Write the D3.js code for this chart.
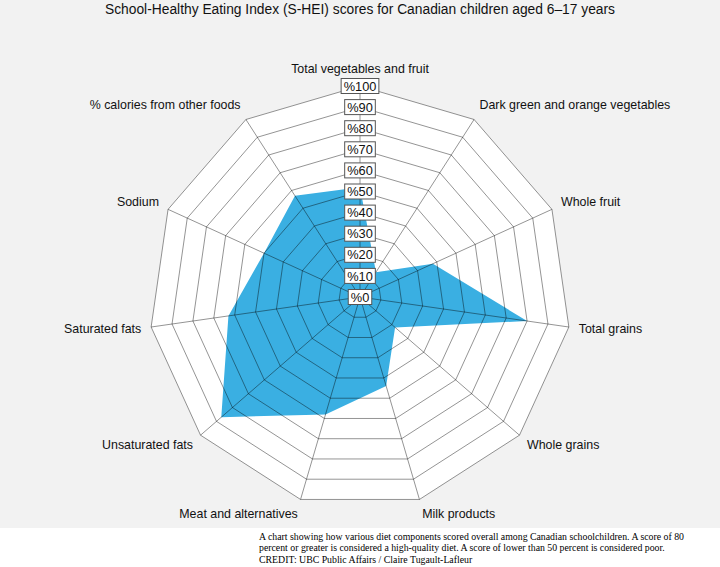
<!DOCTYPE html>
<html>
<head>
<meta charset="utf-8">
<style>
body { margin: 0; background: #f2f2f2; }
svg { display: block; }
.title { font-family: "Liberation Sans", Arial, sans-serif; font-size: 13.8px; fill: #111; }
.axis-label { font-family: "Liberation Sans", Arial, sans-serif; font-size: 12.4px; fill: #111; }
.tick-label { font-family: "Liberation Sans", Arial, sans-serif; font-size: 12.8px; fill: #111; }
.caption { font-family: "Liberation Serif", "Times New Roman", serif; font-size: 9.8px; fill: #000; }
</style>
</head>
<body>
<svg id="svg"></svg>
<script src="https://cdnjs.cloudflare.com/ajax/libs/d3/7.8.5/d3.min.js"></script>
<script>
// components, clockwise from the top
var categories = [
  "Total vegetables and fruit",
  "Dark green and orange vegetables",
  "Whole fruit",
  "Total grains",
  "Whole grains",
  "Milk products",
  "Meat and alternatives",
  "Unsaturated fats",
  "Saturated fats",
  "Sodium",
  "% calories from other foods"
]
// scores in percent
var scores = [52, 14, 38, 80, 22, 44, 58, 87, 63, 50, 57]
var ticks = [0, 10, 20, 30, 40, 50, 60, 70, 80, 90, 100]
var tickLabels = ["%0", "%10", "%20", "%30", "%40", "%50", "%60", "%70", "%80", "%90", "%100"]
var captionLines = [
  "A chart showing how various diet components scored overall among Canadian schoolchildren. A score of 80",
  "percent or greater is considered a high-quality diet. A score of lower than 50 percent is considered poor.",
  "CREDIT: UBC Public Affairs / Claire Tugault-Lafleur"
]

var width = 720, height = 567
var cx = 360, cy = 297, R = 211

var svg = d3.select("#svg")
    .attr("width", width)
    .attr("height", height)

var n = categories.length
var angle = d3.scaleLinear().domain([0, n]).range([0, 2 * Math.PI])
var r = d3.scaleLinear().domain([0, 100]).range([0, R])

var radial = d3.lineRadial()
    .angle(function(d, i) { return angle(i) })
    .radius(function(d) { return r(d) })
    .curve(d3.curveLinearClosed)

var chart = svg.append("g")
    .attr("transform", "translate(" + cx + "," + cy + ")")

// white plot area
chart.append("path")
    .attr("d", radial(categories.map(function() { return 100 })))
    .attr("fill", "white")

// data polygon
chart.append("path")
    .attr("d", radial(scores))
    .attr("fill", "#3aafe2")

// grid on top, semi dark so it shows darker on the blue
var grid = chart.append("g")
    .attr("fill", "none")
    .attr("stroke", "black")
    .attr("stroke-opacity", 0.42)
    .attr("stroke-width", 1)

grid.selectAll(".ring")
    .data(ticks.filter(function(t) { return t > 0 }))
    .enter().append("path")
    .attr("class", "ring")
    .attr("d", function(t) { return radial(categories.map(function() { return t })) })

grid.selectAll(".spoke")
    .data(categories)
    .enter().append("line")
    .attr("class", "spoke")
    .attr("x1", 0).attr("y1", 0)
    .attr("x2", function(d, i) { return r(100) * Math.sin(angle(i)) })
    .attr("y2", function(d, i) { return -r(100) * Math.cos(angle(i)) })

// category labels
chart.selectAll(".axis-label")
    .data(categories)
    .enter().append("text")
    .attr("class", "axis-label")
    .attr("x", function(d, i) { return (R + 10) * Math.sin(angle(i)) })
    .attr("y", function(d, i) { return -(R + 16) * Math.cos(angle(i)) - 1 })
    .attr("dy", "0.35em")
    .attr("text-anchor", function(d, i) {
        var s = Math.sin(angle(i))
        return Math.abs(s) < 0.01 ? "middle" : (s > 0 ? "start" : "end")
    })
    .text(function(d) { return d })

// percent labels along the top spoke
var tickG = chart.selectAll(".tick")
    .data(ticks)
    .enter().append("g")
    .attr("class", "tick")
    .attr("transform", function(t) { return "translate(0," + (-r(t)) + ")" })

tickG.append("text")
    .attr("class", "tick-label")
    .attr("text-anchor", "middle")
    .attr("dy", "0.36em")
    .text(function(d, i) { return tickLabels[i] })

tickG.each(function() {
    var g = d3.select(this)
    var bb = g.select("text").node().getBBox()
    g.insert("rect", "text")
        .attr("x", bb.x - 2.5)
        .attr("y", -7.5)
        .attr("width", bb.width + 5)
        .attr("height", 15)
        .attr("fill", "white")
        .attr("stroke", "#555")
        .attr("stroke-width", 1)
})

// title
svg.append("text")
    .attr("class", "title")
    .attr("x", width / 2)
    .attr("y", 14)
    .attr("text-anchor", "middle")
    .text("School-Healthy Eating Index (S-HEI) scores for Canadian children aged 6\u201317 years")

// caption strip
svg.append("rect")
    .attr("x", 0)
    .attr("y", 528)
    .attr("width", width)
    .attr("height", height - 528)
    .attr("fill", "white")

svg.selectAll(".caption")
    .data(captionLines)
    .enter().append("text")
    .attr("class", "caption")
    .attr("x", 259)
    .attr("y", function(d, i) { return 539.5 + i * 11.7 })
    .text(function(d) { return d })
</script>
</body>
</html>
